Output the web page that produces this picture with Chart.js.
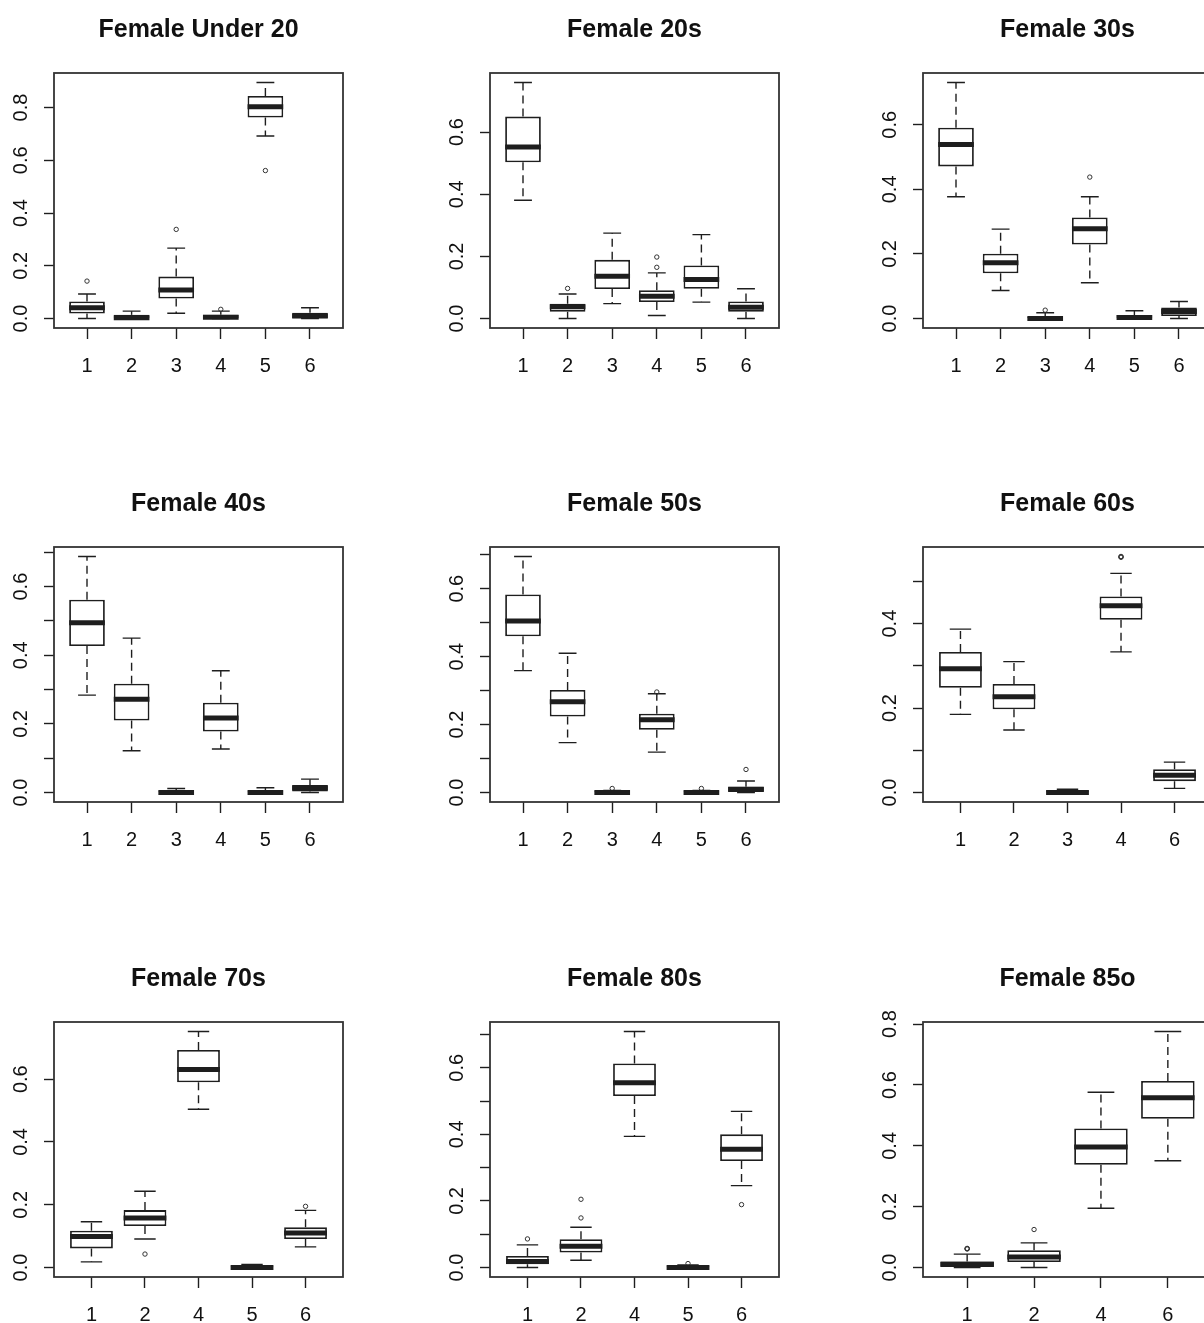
<!DOCTYPE html>
<html>
<head>
<meta charset="utf-8">
<script src="https://cdn.jsdelivr.net/npm/chart.js@4.4.1/dist/chart.umd.min.js"></script>
<style>
    body { margin: 0; background: #fff; width: 1204px; height: 1323px; overflow: hidden; position: relative; }
    canvas { position: absolute; }
</style>
</head>
<body>
<script>
// titles and group labels
var titles = ['Female Under 20', 'Female 20s', 'Female 30s',
              'Female 40s', 'Female 50s', 'Female 60s',
              'Female 70s', 'Female 80s', 'Female 85o'];

var groupsUnder20 = ['1', '2', '3', '4', '5', '6'];
var groups20s = ['1', '2', '3', '4', '5', '6'];
var groups30s = ['1', '2', '3', '4', '5', '6'];
var groups40s = ['1', '2', '3', '4', '5', '6'];
var groups50s = ['1', '2', '3', '4', '5', '6'];
var groups60s = ['1', '2', '3', '4', '6'];
var groups70s = ['1', '2', '4', '5', '6'];
var groups80s = ['1', '2', '4', '5', '6'];
var groups85o = ['1', '2', '4', '6'];

// five number summaries: [lower whisker, q1, median, q3, upper whisker]
var statsUnder20 = [[0.0, 0.019, 0.041, 0.065, 0.093], [0.0, 0.0, 0.003, 0.014, 0.028], [0.020, 0.076, 0.108, 0.159, 0.267],
                    [0.0, 0.0, 0.005, 0.014, 0.028], [0.692, 0.762, 0.803, 0.844, 0.895], [0.0, 0.001, 0.010, 0.022, 0.041]];
var stats20s = [[0.381, 0.503, 0.552, 0.650, 0.760], [0.0, 0.022, 0.038, 0.048, 0.079], [0.048, 0.095, 0.136, 0.189, 0.275],
                [0.010, 0.053, 0.072, 0.091, 0.147], [0.053, 0.096, 0.126, 0.171, 0.270], [0.0, 0.022, 0.036, 0.055, 0.096]];
var stats30s = [[0.377, 0.471, 0.539, 0.591, 0.731], [0.087, 0.140, 0.173, 0.201, 0.277], [0.0, 0.0, 0.0, 0.005, 0.018],
                [0.111, 0.229, 0.278, 0.313, 0.377], [0.0, 0.0, 0.003, 0.011, 0.024], [0.0, 0.008, 0.022, 0.034, 0.053]];
var stats40s = [[0.284, 0.427, 0.495, 0.562, 0.688], [0.122, 0.210, 0.272, 0.317, 0.450], [0.0, 0.0, 0.0, 0.004, 0.012],
                [0.127, 0.178, 0.217, 0.262, 0.355], [0.0, 0.0, 0.0, 0.004, 0.014], [0.0, 0.003, 0.013, 0.022, 0.039]];
var stats50s = [[0.359, 0.460, 0.505, 0.583, 0.695], [0.147, 0.224, 0.267, 0.302, 0.410], [0.0, 0.0, 0.0, 0.004, 0.006],
                [0.119, 0.185, 0.214, 0.232, 0.291], [0.0, 0.0, 0.0, 0.004, 0.006], [0.0, 0.0, 0.010, 0.017, 0.034]];
var stats60s = [[0.185, 0.248, 0.293, 0.333, 0.387], [0.148, 0.197, 0.227, 0.257, 0.310], [0.0, 0.0, 0.0, 0.003, 0.008],
                [0.333, 0.409, 0.442, 0.464, 0.519], [0.010, 0.027, 0.041, 0.055, 0.072]];
var stats70s = [[0.018, 0.061, 0.099, 0.117, 0.146], [0.091, 0.132, 0.158, 0.183, 0.243], [0.504, 0.590, 0.631, 0.693, 0.752],
                [0.0, 0.0, 0.0, 0.004, 0.010], [0.066, 0.091, 0.110, 0.128, 0.182]];
var stats80s = [[0.0, 0.010, 0.018, 0.035, 0.068], [0.022, 0.045, 0.064, 0.085, 0.121], [0.394, 0.515, 0.555, 0.613, 0.709],
                [0.0, 0.0, 0.0, 0.004, 0.008], [0.246, 0.320, 0.355, 0.400, 0.469]];
var stats85o = [[0.0, 0.0, 0.011, 0.020, 0.044], [0.0, 0.018, 0.035, 0.057, 0.081], [0.195, 0.338, 0.396, 0.457, 0.576],
                [0.351, 0.489, 0.558, 0.613, 0.776]];

// outliers: [box position, value]
var outUnder20 = [[1, 0.142], [3, 0.338], [4, 0.035], [5, 0.561]];
var out20s = [[2, 0.097], [4, 0.165], [4, 0.198]];
var out30s = [[3, 0.026], [4, 0.438]];
var out40s = [];
var out50s = [[3, 0.012], [4, 0.296], [5, 0.012], [6, 0.068]];
var out60s = [[4, 0.557], [4, 0.558], [4, 0.559]];
var out70s = [[2, 0.043], [5, 0.195]];
var out80s = [[1, 0.086], [2, 0.149], [2, 0.205], [4, 0.012], [5, 0.189]];
var out85o = [[1, 0.061], [1, 0.062], [1, 0.063], [2, 0.125]];

// y axis tick values
var ticksUnder20 = [0, 0.2, 0.4, 0.6, 0.8];
var ticks20s = [0, 0.2, 0.4, 0.6];
var ticks30s = [0, 0.2, 0.4, 0.6];
var ticks40s = [0, 0.1, 0.2, 0.3, 0.4, 0.5, 0.6, 0.7];
var ticks50s = [0, 0.1, 0.2, 0.3, 0.4, 0.5, 0.6, 0.7];
var ticks60s = [0, 0.1, 0.2, 0.3, 0.4, 0.5];
var ticks70s = [0, 0.2, 0.4, 0.6];
var ticks80s = [0, 0.1, 0.2, 0.3, 0.4, 0.5, 0.6, 0.7];
var ticks85o = [0, 0.2, 0.4, 0.6, 0.8];

var panels = [
    [groupsUnder20, statsUnder20, outUnder20, ticksUnder20],
    [groups20s, stats20s, out20s, ticks20s],
    [groups30s, stats30s, out30s, ticks30s],
    [groups40s, stats40s, out40s, ticks40s],
    [groups50s, stats50s, out50s, ticks50s],
    [groups60s, stats60s, out60s, ticks60s],
    [groups70s, stats70s, out70s, ticks70s],
    [groups80s, stats80s, out80s, ticks80s],
    [groups85o, stats85o, out85o, ticks85o]
];

// layout
var colLeft = [54, 490, 923];
var rowTop = [73, 547, 1022];
var plotW = 289, plotH = 255;
var topSpace = 73, leftSpace = 54, bottomSpace = 60, rightSpace = 40;
var ink = '#1e1e1e';
var fontFamily = '"Liberation Sans", Arial, sans-serif';

// whiskers, staples, medians and the frame, placed through the chart scales
var boxParts = {
    id: 'boxParts',
    beforeDatasetsDraw: function (chart) {
        var ctx = chart.ctx, xs = chart.scales.x, ys = chart.scales.y;
        ctx.save();
        ctx.strokeStyle = ink;
        ctx.lineWidth = 1.4;
        chart.data.datasets[0].data.forEach(function (d) {
            var px = xs.getPixelForValue(d.x);
            var half = xs.getPixelForValue(d.x + 0.2) - px;
            var yMin = ys.getPixelForValue(d.min), yMax = ys.getPixelForValue(d.max);
            var yQ1 = ys.getPixelForValue(d.y[0]), yQ3 = ys.getPixelForValue(d.y[1]);

            ctx.setLineDash([8, 5]);
            ctx.beginPath();
            ctx.moveTo(px, yQ3); ctx.lineTo(px, yMax);
            ctx.moveTo(px, yQ1); ctx.lineTo(px, yMin);
            ctx.stroke();

            ctx.setLineDash([]);
            ctx.beginPath();
            ctx.moveTo(px - half, yMax); ctx.lineTo(px + half, yMax);
            ctx.moveTo(px - half, yMin); ctx.lineTo(px + half, yMin);
            ctx.stroke();
        });
        ctx.restore();
    },
    afterDatasetsDraw: function (chart) {
        var ctx = chart.ctx, xs = chart.scales.x, ys = chart.scales.y;
        ctx.save();
        ctx.strokeStyle = ink;
        ctx.lineWidth = 5;
        ctx.lineCap = 'butt';
        chart.data.datasets[0].data.forEach(function (d) {
            var px = xs.getPixelForValue(d.x);
            var half = xs.getPixelForValue(d.x + 0.4) - px;
            var yMed = ys.getPixelForValue(d.med);
            ctx.beginPath();
            ctx.moveTo(px - half, yMed); ctx.lineTo(px + half, yMed);
            ctx.stroke();
        });
        ctx.restore();
    },
    afterDraw: function (chart) {
        var a = chart.chartArea, ctx = chart.ctx;
        ctx.save();
        ctx.strokeStyle = '#333';
        ctx.lineWidth = 1.8;
        ctx.strokeRect(a.left, a.top, a.right - a.left, a.bottom - a.top);
        ctx.restore();
    }
};

function makePanel(index) {
    var groups = panels[index][0], stats = panels[index][1], outs = panels[index][2], yTicks = panels[index][3];
    var n = groups.length;
    var canvas = document.createElement('canvas');
    var w = leftSpace + plotW + rightSpace, h = topSpace + plotH + bottomSpace;
    canvas.width = w;
    canvas.height = h;
    canvas.style.width = w + 'px';
    canvas.style.height = h + 'px';
    canvas.style.left = (colLeft[index % 3] - leftSpace) + 'px';
    canvas.style.top = (rowTop[Math.floor(index / 3)] - topSpace) + 'px';
    document.body.appendChild(canvas);

    // y range like R: data range widened by 4% each side
    var lo = Infinity, hi = -Infinity;
    stats.forEach(function (s) { lo = Math.min(lo, s[0]); hi = Math.max(hi, s[4]); });
    outs.forEach(function (o) { lo = Math.min(lo, o[1]); hi = Math.max(hi, o[1]); });
    var pad = (hi - lo) * 0.04;

    new Chart(canvas, {
        data: {
            datasets: [{
                type: 'bar',
                data: stats.map(function (s, i) {
                    return { x: i + 1, y: [s[1], s[3]], min: s[0], med: s[2], max: s[4] };
                }),
                backgroundColor: '#ffffff',
                borderColor: ink,
                borderWidth: 1.8,
                borderSkipped: false,
                barPercentage: 0.8,
                categoryPercentage: 1,
                order: 2
            }, {
                type: 'scatter',
                data: outs.map(function (o) { return { x: o[0], y: o[1] }; }),
                pointStyle: 'circle',
                pointRadius: 2.2,
                borderWidth: 1,
                borderColor: '#333',
                backgroundColor: 'rgba(0,0,0,0)',
                order: 1
            }]
        },
        options: {
            responsive: false,
            animation: false,
            events: [],
            layout: { padding: { left: 0, right: rightSpace, top: 0, bottom: 0 } },
            plugins: {
                legend: { display: false },
                tooltip: { enabled: false },
                title: {
                    display: true,
                    fullSize: false,
                    text: titles[index],
                    color: '#111',
                    font: { family: fontFamily, size: 25, weight: 'bold', lineHeight: 1.2 },
                    padding: { top: 15, bottom: 28 }
                }
            },
            scales: {
                x: {
                    type: 'linear',
                    offset: false,
                    min: 0.5 - 0.04 * n,
                    max: n + 0.5 + 0.04 * n,
                    afterBuildTicks: function (s) {
                        s.ticks = groups.map(function (g, i) { return { value: i + 1 }; });
                    },
                    afterFit: function (s) {
                        s.height = bottomSpace;
                        s.paddingLeft = 0;
                        s.paddingRight = 0;
                    },
                    grid: { offset: false, drawOnChartArea: false, drawTicks: true, tickLength: 11, tickColor: ink, tickWidth: 1.4 },
                    border: { display: false },
                    ticks: {
                        autoSkip: false,
                        minRotation: 0,
                        maxRotation: 0,
                        padding: 15,
                        color: '#111',
                        font: { family: fontFamily, size: 20 },
                        callback: function (v, i) { return groups[i]; }
                    }
                },
                y: {
                    type: 'linear',
                    min: lo - pad,
                    max: hi + pad,
                    afterBuildTicks: function (s) {
                        s.ticks = yTicks.map(function (v) { return { value: v }; });
                    },
                    afterFit: function (s) {
                        s.width = leftSpace;
                        s.paddingTop = 0;
                        s.paddingBottom = 0;
                    },
                    grid: { drawOnChartArea: false, drawTicks: true, tickLength: 10, tickColor: ink, tickWidth: 1.4 },
                    border: { display: false },
                    ticks: {
                        autoSkip: false,
                        minRotation: 90,
                        maxRotation: 90,
                        crossAlign: 'center',
                        padding: 9,
                        color: '#111',
                        font: { family: fontFamily, size: 20 },
                        callback: function (v) {
                            return Math.round(v * 10) % 2 === 0 ? v.toFixed(1) : '';
                        }
                    }
                }
            }
        },
        plugins: [boxParts]
    });
}

window.onload = function () {
    for (var i = 0; i < panels.length; i++) {
        makePanel(i);
    }
};
</script>
</body>
</html>
